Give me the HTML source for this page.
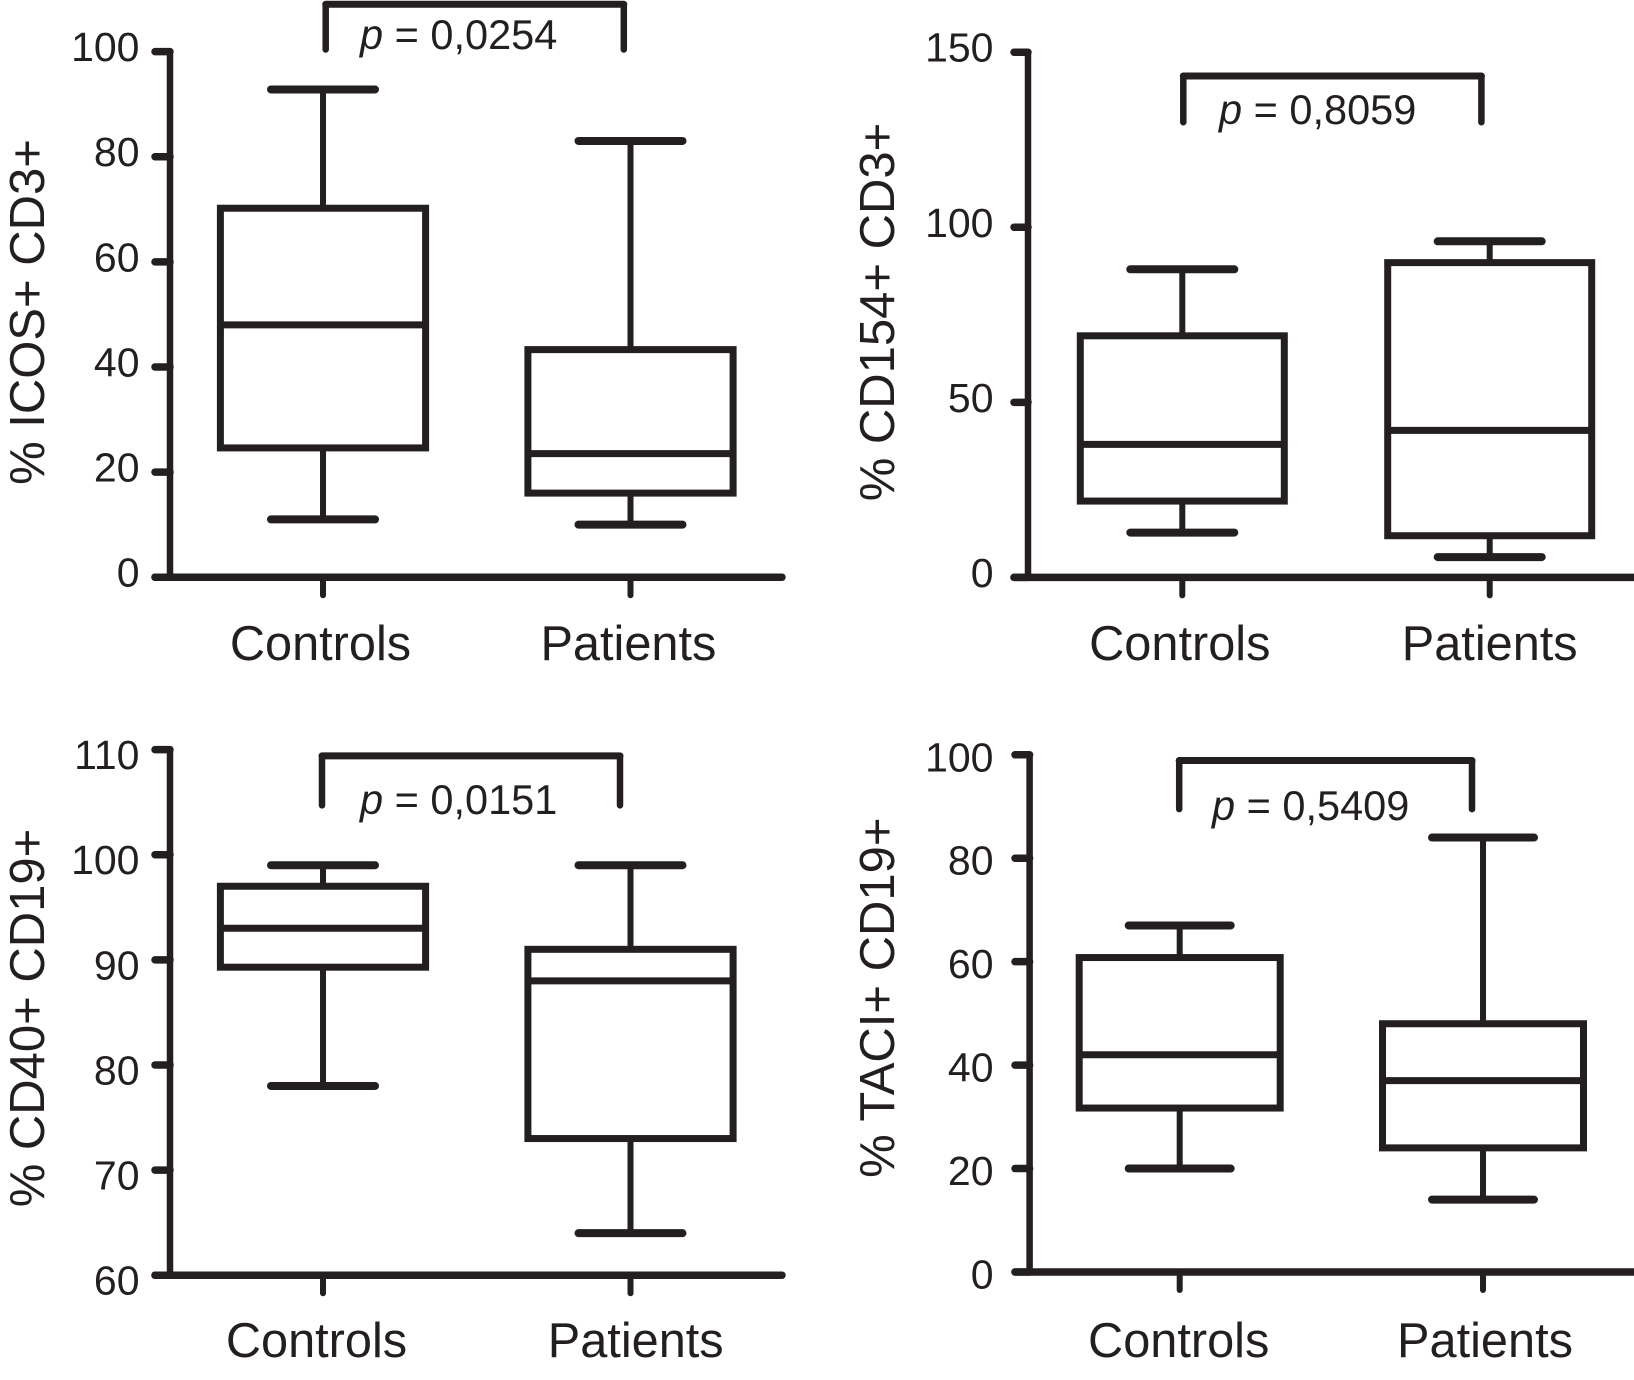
<!DOCTYPE html>
<html lang="en">
<head>
<meta charset="utf-8">
<title>Box plots of ICOS, CD154, CD40 and TACI expression in controls and patients</title>
<style>
html,body{margin:0;padding:0;background:#fff;width:1634px;height:1380px;overflow:hidden}
svg{display:block}
text{font-family:"Liberation Sans",Arial,sans-serif;fill:#231f20}
</style>
</head>
<body>
<svg id="figure" xmlns="http://www.w3.org/2000/svg" width="1634" height="1380" viewBox="0 0 1634 1380"></svg>
<script>
// Each series: [whisker low, Q1, median, Q3, whisker high]
const categories = ['Controls', 'Patients'];

const icosControls = [11, 24.6, 48, 70.2, 92.8];
const icosPatients = [10, 16, 23.5, 43.3, 83];
const icosTicks = [0, 20, 40, 60, 80, 100];
const icosBracket = [100.4, 109];

const cd154Controls = [12.8, 21.8, 38, 69, 88];
const cd154Patients = [5.8, 11.9, 42, 89.9, 96];
const cd154Ticks = [0, 50, 100, 150];
const cd154Bracket = [130, 143.2];

const cd40Controls = [78, 89.3, 93, 97, 99];
const cd40Patients = [64, 73, 88, 91, 99];
const cd40Ticks = [60, 70, 80, 90, 100, 110];
const cd40Bracket = [104.7, 109.4];

const taciControls = [20, 31.7, 42, 60.8, 67];
const taciPatients = [14, 24, 37, 48, 84];
const taciTicks = [0, 20, 40, 60, 80, 100];
const taciBracket = [89.5, 98.9];

const INK = '#231f20';
const NS = 'http://www.w3.org/2000/svg';
const svg = document.getElementById('figure');

function addLine(parent, x1, y1, x2, y2, width, name, cap) {
  const el = document.createElementNS(NS, 'line');
  
  
  el.setAttribute('x1', x1);
  el.setAttribute('y1', y1);
  el.setAttribute('x2', x2);
  el.setAttribute('y2', y2);
  el.setAttribute('stroke', INK);
  el.setAttribute('stroke-width', width);
  el.setAttribute('stroke-linecap', cap || 'butt');
  parent.appendChild(el);
  return el;
}

function addText(parent, x, y, size, anchor, content, name) {
  const el = document.createElementNS(NS, 'text');
  
  
  el.setAttribute('x', x);
  el.setAttribute('y', y);
  el.setAttribute('font-size', size);
  el.setAttribute('text-anchor', anchor);
  el.textContent = content;
  parent.appendChild(el);
  return el;
}

function drawBox(parent, cx, values, yScale, boxHalf, capHalf, name) {
  const g = document.createElementNS(NS, 'g');
  
  
  parent.appendChild(g);
  const lo = yScale(values[0]);
  const q1 = yScale(values[1]);
  const med = yScale(values[2]);
  const q3 = yScale(values[3]);
  const hi = yScale(values[4]);
  addLine(g, cx, hi, cx, q3, 6, name + '-upper-whisker');
  addLine(g, cx, q1, cx, lo, 6, name + '-lower-whisker');
  addLine(g, cx - capHalf, hi, cx + capHalf, hi, 8, name + '-upper-cap', 'round');
  addLine(g, cx - capHalf, lo, cx + capHalf, lo, 8, name + '-lower-cap', 'round');
  const rect = document.createElementNS(NS, 'rect');
  
  
  rect.setAttribute('x', cx - boxHalf);
  rect.setAttribute('y', q3);
  rect.setAttribute('width', boxHalf * 2);
  rect.setAttribute('height', q1 - q3);
  rect.setAttribute('fill', 'none');
  rect.setAttribute('stroke', INK);
  rect.setAttribute('stroke-width', 7);
  g.appendChild(rect);
  addLine(g, cx - boxHalf, med, cx + boxHalf, med, 7, name + '-median');
}

function drawPanel(p) {
  const g = document.createElementNS(NS, 'g');
  
  
  svg.appendChild(g);

  const yMin = p.ticks[0];
  const yMax = p.ticks[p.ticks.length - 1];
  const yScale = v => p.y0 + (v - yMin) / (yMax - yMin) * (p.yTop - p.y0);

  // axes
  addLine(g, p.axisX, p.yTop, p.axisX, p.y0, 6.5, p.name + '-y-axis');
  addLine(g, p.tickLeft, p.y0, p.axisEnd, p.y0, 7.5, p.name + '-x-axis', 'round');

  // y ticks and labels
  p.ticks.forEach(function (t) {
    const y = yScale(t);
    addLine(g, p.tickLeft, y, p.axisX, y, 7.5, p.name + '-y-tick-' + t, 'round');
    addText(g, p.labelRight, y + p.labelShift, 41, 'end', String(t), p.name + '-y-tick-label-' + t);
  });

  // x ticks and labels
  categories.forEach(function (c, i) {
    addLine(g, p.cats[i], p.y0, p.cats[i], p.y0 + 18, 6, p.name + '-x-tick-' + c.toLowerCase(), 'round');
    addText(g, p.catLabels[i], p.catBaseline, 48.7, 'middle', c, p.name + '-x-label-' + c.toLowerCase());
  });

  // axis title
  const title = addText(g, 0, 0, 49, 'middle', p.title, p.name + '-y-axis-title');
  title.setAttribute('transform', 'translate(' + p.titleX + ' ' + p.titleY + ') rotate(-90)');

  // boxes
  drawBox(g, p.cats[0], p.controls, yScale, p.boxHalf, p.capHalf, p.name + '-controls');
  drawBox(g, p.cats[1], p.patients, yScale, p.boxHalf, p.capHalf, p.name + '-patients');

  // significance bracket
  const bLow = yScale(p.bracket[0]);
  const bTop = yScale(p.bracket[1]);
  const bl = p.cats[0] + p.bracketOffsets[0];
  const br = p.cats[1] + p.bracketOffsets[1];
  addLine(g, bl, bTop, br, bTop, 7, p.name + '-bracket-top', 'round');
  addLine(g, bl, bTop, bl, bLow, 6.5, p.name + '-bracket-left', 'round');
  addLine(g, br, bTop, br, bLow, 6.5, p.name + '-bracket-right', 'round');

  const pText = addText(g, p.pX, p.pY, 41.5, 'start', '', p.name + '-p-value');
  const italic = document.createElementNS(NS, 'tspan');
  italic.setAttribute('font-style', 'italic');
  italic.textContent = 'p';
  pText.appendChild(italic);
  pText.appendChild(document.createTextNode(' = ' + p.pValue));
}

drawPanel({
  name: 'icos-panel', title: '% ICOS+ CD3+', pValue: '0,0254',
  controls: icosControls, patients: icosPatients, ticks: icosTicks, bracket: icosBracket,
  axisX: 170, tickLeft: 155, axisEnd: 782, y0: 577.2, yTop: 51.6,
  cats: [323, 630.5], catLabels: [320.5, 628.4], catBaseline: 660,
  boxHalf: 102.6, capHalf: 52, labelRight: 139.5, labelShift: 9.5,
  titleX: 44, titleY: 312, bracketOffsets: [2.7, -6.7], pX: 360, pY: 49
});

drawPanel({
  name: 'cd154-panel', title: '% CD154+ CD3+', pValue: '0,8059',
  controls: cd154Controls, patients: cd154Patients, ticks: cd154Ticks, bracket: cd154Bracket,
  axisX: 1028, tickLeft: 1014, axisEnd: 1640, y0: 577.4, yTop: 52.2,
  cats: [1182.3, 1489.7], catLabels: [1179.8, 1489.7], catBaseline: 660,
  boxHalf: 102, capHalf: 52, labelRight: 993.5, labelShift: 9.5,
  titleX: 894, titleY: 312, bracketOffsets: [1, -8.3], pX: 1219, pY: 124
});

drawPanel({
  name: 'cd40-panel', title: '% CD40+ CD19+', pValue: '0,0151',
  controls: cd40Controls, patients: cd40Patients, ticks: cd40Ticks, bracket: cd40Bracket,
  axisX: 170, tickLeft: 155, axisEnd: 782, y0: 1275.2, yTop: 749.6,
  cats: [323, 630.5], catLabels: [316.5, 635.7], catBaseline: 1357,
  boxHalf: 102.6, capHalf: 52, labelRight: 139.5, labelShift: 19.5,
  titleX: 44, titleY: 1018, bracketOffsets: [-1, -10.5], pX: 360, pY: 814
});

drawPanel({
  name: 'taci-panel', title: '% TACI+ CD19+', pValue: '0,5409',
  controls: taciControls, patients: taciPatients, ticks: taciTicks, bracket: taciBracket,
  axisX: 1029.6, tickLeft: 1015, axisEnd: 1640, y0: 1272, yTop: 754.8,
  cats: [1179.7, 1483], catLabels: [1178.7, 1485], catBaseline: 1357,
  boxHalf: 100.5, capHalf: 51, labelRight: 993.5, labelShift: 16.5,
  titleX: 894, titleY: 997.7, bracketOffsets: [-0.5, -11], pX: 1212, pY: 820
});
</script>
</body>
</html>
